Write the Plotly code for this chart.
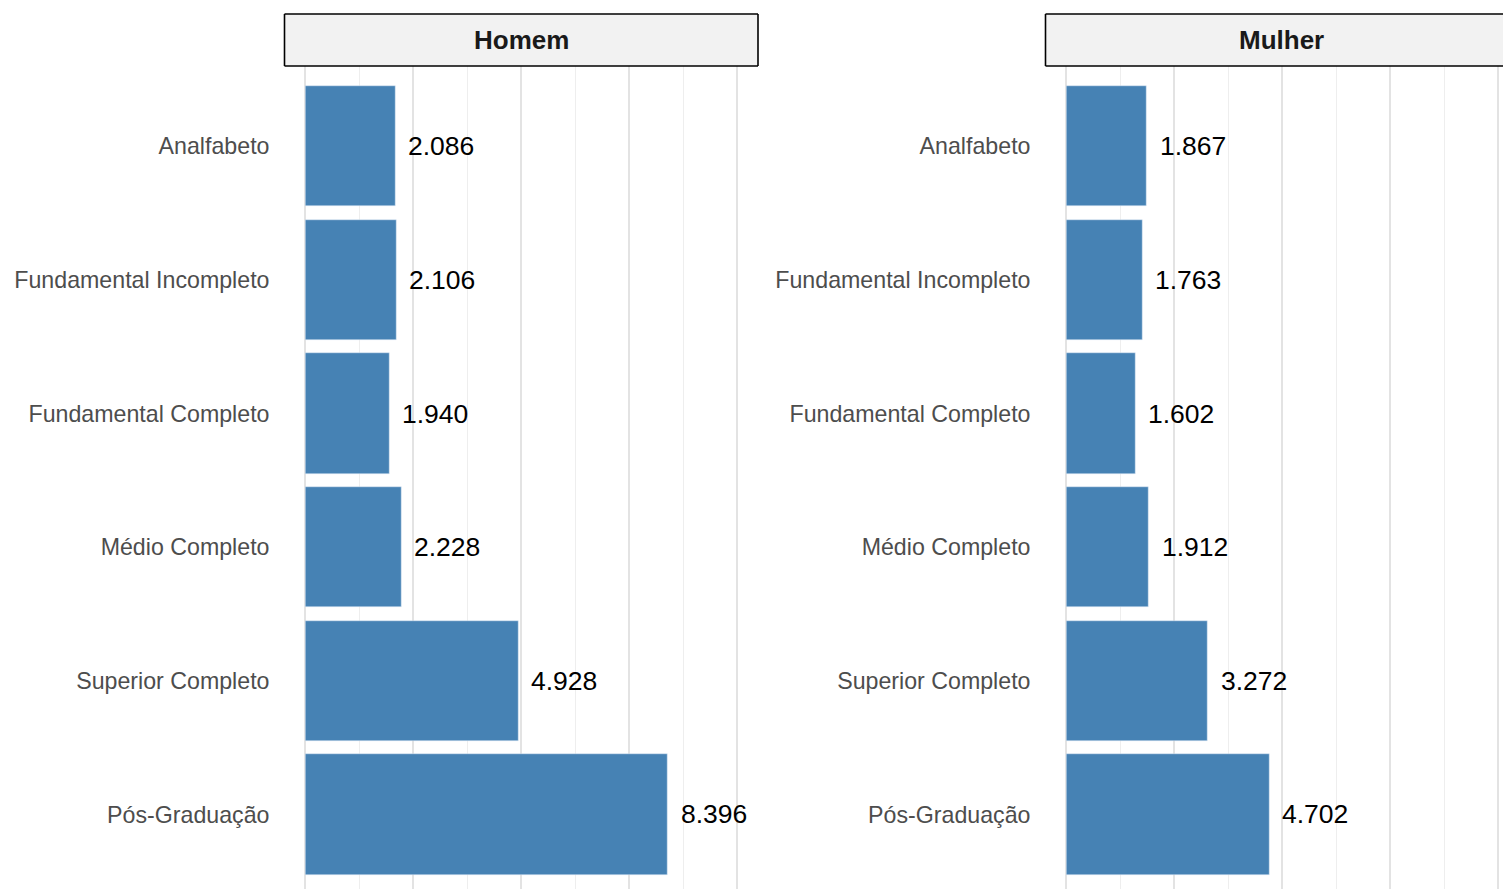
import plotly.graph_objects as go

categories = ["Analfabeto", "Fundamental Incompleto", "Fundamental Completo",
              "Médio Completo", "Superior Completo", "Pós-Graduação"]
homem = [2086, 2106, 1940, 2228, 4928, 8396]
mulher = [1867, 1763, 1602, 1912, 3272, 4702]
panels = ["Homem", "Mulher"]

W, H = 1503, 889
BAR = "#4682b4"


def px(x):
    return x / W


def py(y):
    return (H - y) / H


def fmt(v):
    return f"{v:,}".replace(",", ".")


fig = go.Figure()

dom_left = [px(284.5), px(758)]
dom_right = [px(1045.5), 1.0]
ydom = [0, py(66)]

fig.add_trace(go.Bar(y=categories, x=homem, orientation="h", marker_color=BAR,
                     width=0.9, xaxis="x", yaxis="y", showlegend=False, hoverinfo="x+y"))
fig.add_trace(go.Bar(y=categories, x=mulher, orientation="h", marker_color=BAR,
                     width=0.9, xaxis="x2", yaxis="y2", showlegend=False, hoverinfo="x+y"))

annotations = []
for xa, ya, vals in (("x", "y", homem), ("x2", "y2", mulher)):
    for c, v in zip(categories, vals):
        annotations.append(dict(x=v, y=c, xref=xa, yref=ya, text=fmt(v), showarrow=False,
                                xanchor="left", yanchor="middle", xshift=11,
                                font=dict(family="Liberation Sans, Arial", size=26.5, color="#000000")))

common_x = dict(showgrid=True, gridcolor="#e3e3e3", gridwidth=1.6,
                tickmode="array", tickvals=[0, 2500, 5000, 7500, 10000],
                minor=dict(tickmode="array", tickvals=[1250, 3750, 6250, 8750],
                           showgrid=True, gridcolor="#eeeeee", gridwidth=0.9),
                showticklabels=False, zeroline=False, showline=False, ticks="")
common_y = dict(type="category", categoryorder="array", categoryarray=categories,
                range=[(889 - 146.5) / 133.6, -0.6], showgrid=False, zeroline=False,
                showline=False, ticks="", ticklabelstandoff=14,
                tickfont=dict(family="Liberation Sans, Arial", size=23.2, color="#4d4d4d"))

fig.update_layout(
    width=W, height=H,
    margin=dict(l=0, r=0, t=0, b=0),
    paper_bgcolor="white", plot_bgcolor="white",
    bargap=0,
    xaxis=dict(domain=dom_left, range=[-480, 10480], anchor="y", **common_x),
    xaxis2=dict(domain=dom_right, range=[-480, 10110], anchor="y2", **common_x),
    yaxis=dict(domain=ydom, anchor="x", **common_y),
    yaxis2=dict(domain=ydom, anchor="x2", **common_y),
    annotations=annotations,
)

# facet strips
sy0, sy1 = py(66), py(14)
shapes = []
for (d0, d1), name, full, cx in ((dom_left, panels[0], True, px((284.5 + 758) / 2)),
                                 (dom_right, panels[1], False, px((1045 + 1518) / 2))):
    shapes.append(dict(type="rect", xref="paper", yref="paper", x0=d0, x1=d1, y0=sy0, y1=sy1,
                       fillcolor="#f2f2f2", line=dict(width=0), layer="below"))
    edges = [(d0, sy0, d1, sy0), (d0, sy1, d1, sy1), (d0, sy0, d0, sy1)]
    if full:
        edges.append((d1, sy0, d1, sy1))
    for x0, y0, x1, y1 in edges:
        shapes.append(dict(type="line", xref="paper", yref="paper", x0=x0, y0=y0, x1=x1, y1=y1,
                           line=dict(color="#000000", width=1.6)))
    fig.add_annotation(x=cx, y=(sy0 + sy1) / 2, xref="paper", yref="paper", text=f"<b>{name}</b>",
                       showarrow=False, xanchor="center", yanchor="middle",
                       font=dict(family="Liberation Sans, Arial", size=26, color="#1a1a1a"))
fig.update_layout(shapes=shapes)

fig.write_html("out.html", config={"displayModeBar": False},
               post_script="document.body.style.margin='0';document.body.style.overflow='hidden';")
